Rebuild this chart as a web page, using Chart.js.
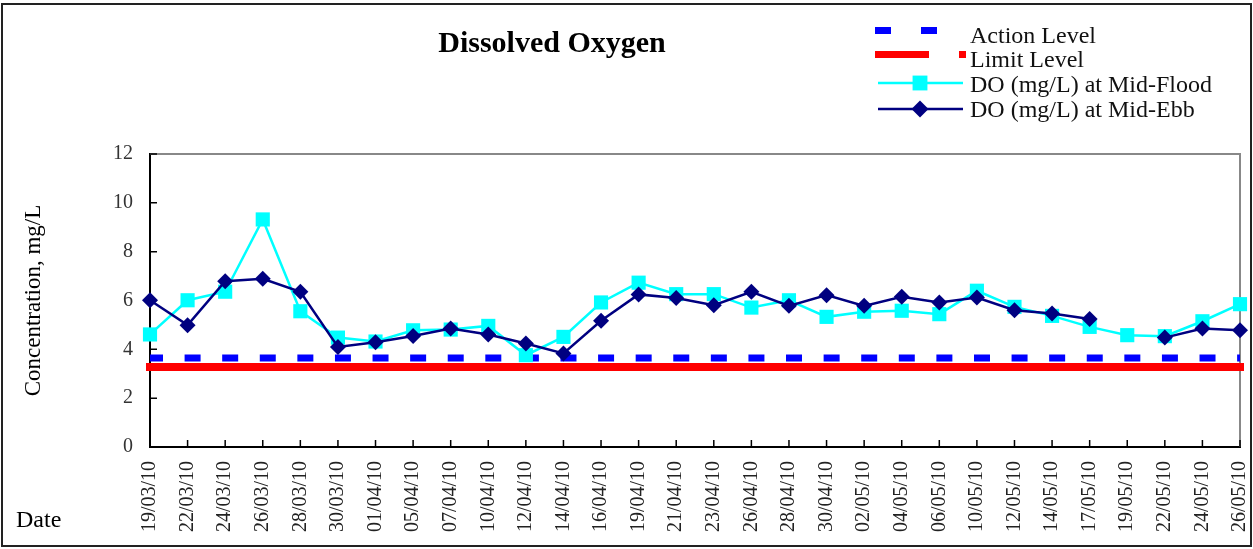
<!DOCTYPE html>
<html>
<head>
<meta charset="utf-8">
<script src="https://cdn.jsdelivr.net/npm/chart.js@4"></script>
<style>
  html, body { margin: 0; padding: 0; background: #fff; }
  canvas { display: block; }
</style>
</head>
<body>
<canvas id="chart" width="1253" height="549"></canvas>
<script>
// sampling dates (x categories)
const dates = [
  "19/03/10", "22/03/10", "24/03/10", "26/03/10", "28/03/10", "30/03/10",
  "01/04/10", "05/04/10", "07/04/10", "10/04/10", "12/04/10", "14/04/10",
  "16/04/10", "19/04/10", "21/04/10", "23/04/10", "26/04/10", "28/04/10",
  "30/04/10", "02/05/10", "04/05/10", "06/05/10", "10/05/10", "12/05/10",
  "14/05/10", "17/05/10", "19/05/10", "22/05/10", "24/05/10", "26/05/10"
];

// DO readings, mg/L
const floodDO = [
  4.61, 6.01, 6.36, 9.32, 5.56, 4.48, 4.32, 4.78, 4.81, 4.96, 3.76, 4.51,
  5.92, 6.73, 6.26, 6.26, 5.71, 6.01, 5.33, 5.54, 5.58, 5.44, 6.40, 5.74,
  5.37, 4.92, 4.58, 4.54, 5.15, 5.85
];
const ebbDO = [
  6.01, 4.99, 6.79, 6.89, 6.36, 4.10, 4.29, 4.55, 4.85, 4.61, 4.24, 3.83,
  5.17, 6.25, 6.10, 5.81, 6.36, 5.78, 6.22, 5.78, 6.15, 5.92, 6.12, 5.60,
  5.47, 5.24, null, 4.48, 4.85, 4.78
];

const actionLevel = 3.64;
const limitLevel = 3.28;
const yTicks = [0, 2, 4, 6, 8, 10, 12];

const SERIF = "'Liberation Serif', 'Times New Roman', serif";

const datasets = [
  {
    label: "Action Level",
    data: dates.map(() => actionLevel),
    borderColor: "#0000FF",
    borderWidth: 7,
    borderDash: [16, 21.59],
    borderDashOffset: 3,
    pointRadius: 0,
    order: 3,
  },
  {
    label: "Limit Level",
    data: dates.map(() => limitLevel),
    borderColor: "#FF0000",
    borderWidth: 8,
    borderCapStyle: "square",
    pointRadius: 0,
    order: 4,
  },
  {
    label: "DO (mg/L) at Mid-Flood",
    data: floodDO,
    borderColor: "#00FFFF",
    backgroundColor: "#00FFFF",
    borderWidth: 2.5,
    pointStyle: "rect",
    pointRadius: 10,
    pointBorderWidth: 0,
    order: 2,
  },
  {
    label: "DO (mg/L) at Mid-Ebb",
    data: ebbDO,
    borderColor: "#000080",
    backgroundColor: "#000080",
    borderWidth: 2.5,
    pointStyle: "rectRot",
    pointRadius: 8,
    pointBorderWidth: 0,
    spanGaps: false,
    order: 1,
  },
];

// Рамка, заголовок, легенда и подпись "Date"
const decorPlugin = {
  id: "decor",
  beforeDraw(chart) {
    const ctx = chart.ctx;
    ctx.save();
    ctx.fillStyle = "#fff";
    ctx.fillRect(0, 0, chart.width, chart.height);
    ctx.strokeStyle = "#222";
    ctx.lineWidth = 2;
    ctx.strokeRect(2, 4, 1249, 542);

    ctx.fillStyle = "#000";
    ctx.font = "bold 30px " + SERIF;
    ctx.textAlign = "center";
    ctx.textBaseline = "alphabetic";
    ctx.fillText("Dissolved Oxygen", 552, 52);

    ctx.font = "24px " + SERIF;
    ctx.textAlign = "left";
    ctx.fillText("Date", 16, 527);

    // legend
    const ds = chart.data.datasets;
    const textY = [37, 61, 86, 111];
    ctx.textBaseline = "middle";
    ctx.font = "24px " + SERIF;
    ctx.fillStyle = "#111";
    ds.forEach((d, i) => ctx.fillText(d.label, 970, textY[i]));

    ctx.fillStyle = ds[0].borderColor;
    ctx.fillRect(875, 27, 16, 7);
    ctx.fillRect(921, 27, 16, 7);

    ctx.fillStyle = ds[1].borderColor;
    ctx.fillRect(875, 51, 54, 7);
    ctx.fillRect(959, 51, 7, 7);

    [2, 3].forEach((k, j) => {
      const y = j === 0 ? 83 : 109;
      ctx.strokeStyle = ds[k].borderColor;
      ctx.lineWidth = 2.5;
      ctx.beginPath();
      ctx.moveTo(878, y);
      ctx.lineTo(963, y);
      ctx.stroke();
      ctx.fillStyle = ds[k].backgroundColor;
      Chart.helpers.drawPoint(ctx, {
        pointStyle: ds[k].pointStyle,
        radius: ds[k].pointRadius + 0.5,
        borderWidth: 0,
        rotation: 0,
      }, 920, y);
    });
    ctx.restore();
  },
  beforeDatasetsDraw(chart) {
    const ctx = chart.ctx;
    const a = chart.chartArea;
    const xs = chart.scales.x;
    const ys = chart.scales.y;
    ctx.save();
    // top and right frame in grey
    ctx.strokeStyle = "#888";
    ctx.lineWidth = 2;
    ctx.beginPath();
    ctx.moveTo(a.left, a.top);
    ctx.lineTo(a.right, a.top);
    ctx.lineTo(a.right, a.bottom);
    ctx.stroke();
    // inward tick marks
    ctx.strokeStyle = "#000";
    ctx.lineWidth = 1.5;
    ctx.beginPath();
    dates.forEach((d, i) => {
      const x = xs.getPixelForValue(i);
      ctx.moveTo(x, a.bottom);
      ctx.lineTo(x, a.bottom - 7);
    });
    yTicks.forEach((v) => {
      const y = ys.getPixelForValue(v);
      ctx.moveTo(a.left, y);
      ctx.lineTo(a.left + 7, y);
    });
    ctx.stroke();
    ctx.restore();
  },
};

new Chart(document.getElementById("chart"), {
  type: "line",
  data: { labels: dates, datasets: datasets },
  plugins: [decorPlugin],
  options: {
    responsive: false,
    animation: false,
    layout: { padding: { top: 154, right: 13, left: 0, bottom: 0 } },
    plugins: {
      legend: { display: false },
      title: { display: false },
      tooltip: { enabled: false },
    },
    elements: { line: { tension: 0 } },
    scales: {
      x: {
        type: "category",
        offset: false,
        grid: { display: false, drawTicks: false },
        border: { color: "#000", width: 2 },
        ticks: {
          autoSkip: false,
          minRotation: 90,
          maxRotation: 90,
          padding: 14,
          color: "#222",
          font: { family: SERIF, size: 20 },
        },
        afterFit(scale) {
          scale.height = 102;
          scale.paddingLeft = 0;
          scale.paddingRight = 0;
        },
      },
      y: {
        min: 0,
        max: 12,
        grid: { display: false, drawTicks: false },
        border: { color: "#000", width: 2 },
        afterBuildTicks(scale) { scale.ticks = yTicks.map((v) => ({ value: v })); },
        ticks: {
          padding: 17,
          color: "#333",
          font: { family: SERIF, size: 20 },
        },
        title: {
          display: true,
          text: "Concentration, mg/L",
          color: "#000",
          font: { family: SERIF, size: 23 },
          padding: { top: 20 },
        },
        afterFit(scale) {
          scale.width = 150;
          scale.paddingTop = 0;
          scale.paddingBottom = 0;
        },
      },
    },
  },
});
</script>
</body>
</html>
